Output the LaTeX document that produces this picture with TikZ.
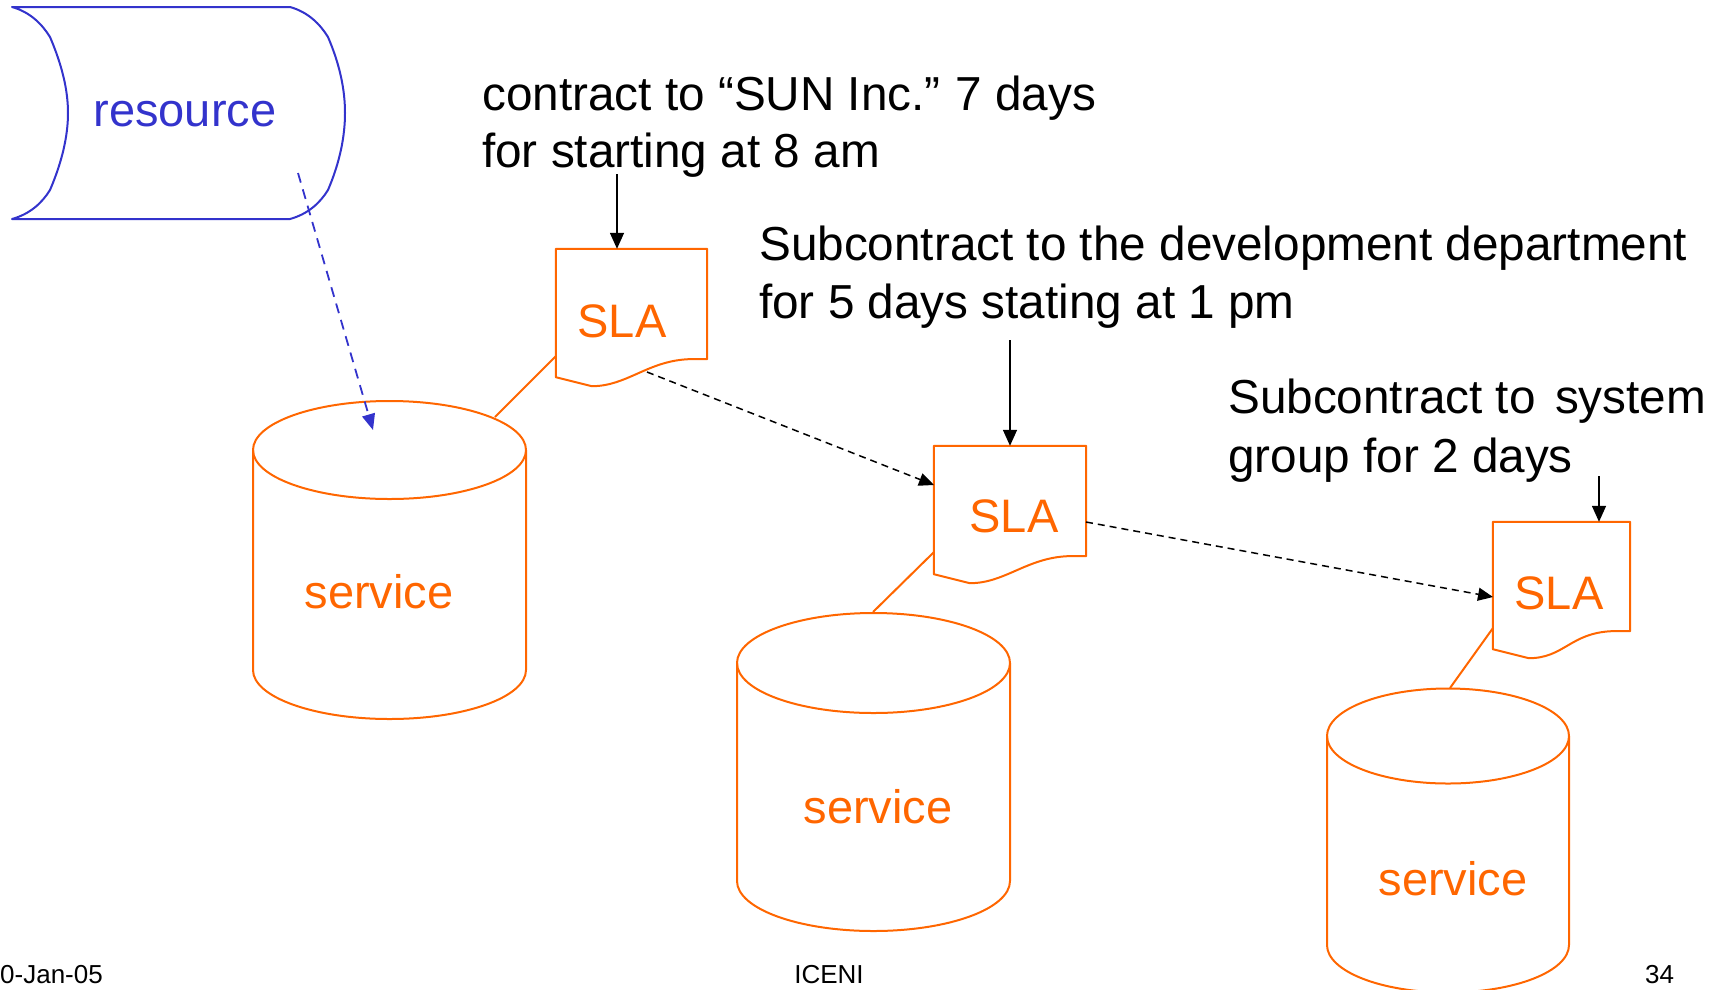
\documentclass[tikz,border=0pt]{standalone}
\usepackage{fontspec}
\setmainfont{Liberation Sans}
\usetikzlibrary{arrows.meta,calc}
\definecolor{orng}{RGB}{255,102,0}
\definecolor{blu}{RGB}{51,51,204}
\tikzset{
  orline/.style={draw=orng,line width=2pt,line join=round},
  bigtxt/.style={inner sep=0pt,font=\fontsize{47.7}{58}\selectfont,text=black},
  shtxt/.style={inner sep=0pt,font=\fontsize{47}{56}\selectfont,text=orng},
  foot/.style={inner sep=0pt,font=\fontsize{26}{30}\selectfont,text=black},
  slabox/.style={inner sep=0pt,draw=none,minimum width=#1},
  blkarrow/.style={draw=black,line width=1.5pt,-{Triangle[length=16pt,width=14pt]}},
  dasharrow/.style={draw=black,line width=1.5pt,dash pattern=on 7pt off 5pt,-{Triangle[length=15pt,width=13pt]}},
  bluarrow/.style={draw=blu,line width=1.8pt,dash pattern=on 10pt off 7pt,-{Triangle[length=16pt,width=13pt]}},
}
\newcommand\slaoutline[1]{%
  \draw[orline] (#1.south west) -- (#1.north west) -- (#1.north east) -- (#1.south east)
    -- ++(-19,0) .. controls +(-41,2) and +(35,0) .. ($(#1.south west)+(36,27)$)
    -- ($(#1.south west)+(0,18)$) -- cycle;}
\newcommand\cylshape[5]{% cx, top cy, bottom cy, rx, ry
  \draw[orline] (#1,#2) ellipse [x radius=#4pt, y radius=#5pt];
  \draw[orline] ({#1-#4},#2) -- ({#1-#4},#3) arc[start angle=180,end angle=360,x radius=#4pt,y radius=#5pt] -- ({#1+#4},#2);}
\begin{document}
\begin{tikzpicture}[x=1pt,y=-1pt]
\useasboundingbox (0,0) rectangle (1725,989);

% resource
\draw[draw=blu,line width=2pt,line join=round]
  (12,7) -- (290,7) .. controls (308,12) and (320,24) .. (328,37)
  .. controls (340,65) and (345,90) .. (345,113)
  .. controls (345,136) and (340,162) .. (328,190)
  .. controls (320,203) and (308,214) .. (290,219) -- (12,219)
  .. controls (30,214) and (42,203) .. (50,190)
  .. controls (62,162) and (68,136) .. (68,113)
  .. controls (68,90) and (62,65) .. (50,37)
  .. controls (42,24) and (30,12) .. (12,7) -- cycle;
\node[inner sep=0pt,font=\fontsize{47}{56}\selectfont,text=blu,anchor=base] (res) at (185,126) {resource};

% texts
\node[bigtxt,anchor=base west] (t1a) at (482,110) {contract to “SUN Inc.”\hspace{-3pt} 7 days};
\node[bigtxt,anchor=base west] (t1b) at (482,167) {for starting at 8 am};
\node[bigtxt,anchor=base west] (t2a) at (759,260) {Subcontract to the development department};
\node[bigtxt,anchor=base west] (t2b) at (759,318) {for 5 days stating at 1 pm};
\node[bigtxt,anchor=base west] (t3a) at (1228,413) {Subcontract to\hspace{6pt} system};
\node[bigtxt,anchor=base west] (t3b) at (1228,472) {group for 2 days};

% SLA boxes
\node[slabox=151pt,minimum height=110pt] (s1) at (631.5,304) {};
\node[slabox=152pt,minimum height=110pt] (s2) at (1010,501) {};
\node[slabox=137pt,minimum height=109pt] (s3) at (1561.5,576.5) {};
\slaoutline{s1}
\slaoutline{s2}
\slaoutline{s3}
\node[shtxt,anchor=base] (l1) at (622,337) {SLA};
\node[shtxt,anchor=base] (l2) at (1014,532) {SLA};
\node[shtxt,anchor=base] (l3) at (1559,609) {SLA};

% cylinders
\cylshape{389.5}{450}{670}{136.5}{49}
\cylshape{873.5}{663}{881}{136.5}{50}
\cylshape{1448}{736}{945}{121}{47.5}
\node[shtxt,anchor=base] (sv1) at (379,608) {service};
\node[shtxt,anchor=base] (sv2) at (878,823) {service};
\node[shtxt,anchor=base] (sv3) at (1453,895) {service};

% connector coordinates
\coordinate (a1) at (617,174);
\coordinate (a2) at (1010,340);
\coordinate (a3) at (1599,476);
\coordinate (d1s) at (647,372);
\coordinate (d1e) at (934,485);
\coordinate (d2s) at (1086,522);
\coordinate (d2e) at (1493,597);
\coordinate (bs) at (298,173);
\coordinate (be) at (373,430);
\coordinate (o1s) at (556,356);
\coordinate (o1e) at (495,417);
\coordinate (o2s) at (934,552);
\coordinate (o2e) at (873,612);
\coordinate (o3s) at (1493,628);
\coordinate (o3e) at (1450,688);

\draw[blkarrow] (a1) -- (a1 |- s1.north);
\draw[blkarrow] (a2) -- (a2 |- s2.north);
\draw[blkarrow] (a3) -- (a3 |- s3.north);
\draw[dasharrow] (d1s) -- (d1e);
\draw[dasharrow] (d2s) -- (d2e);
\draw[bluarrow] (bs) -- (be);
\draw[orline] (o1s) -- (o1e);
\draw[orline] (o2s) -- (o2e);
\draw[orline] (o3s) -- (o3e);

% footer
\node[foot,anchor=base west] (f1) at (0,983) {0-Jan-05};
\node[foot,anchor=base] (f2) at (829,983) {ICENI};
\node[foot,anchor=base west] (f3) at (1645,983) {34};
\end{tikzpicture}
\end{document}
